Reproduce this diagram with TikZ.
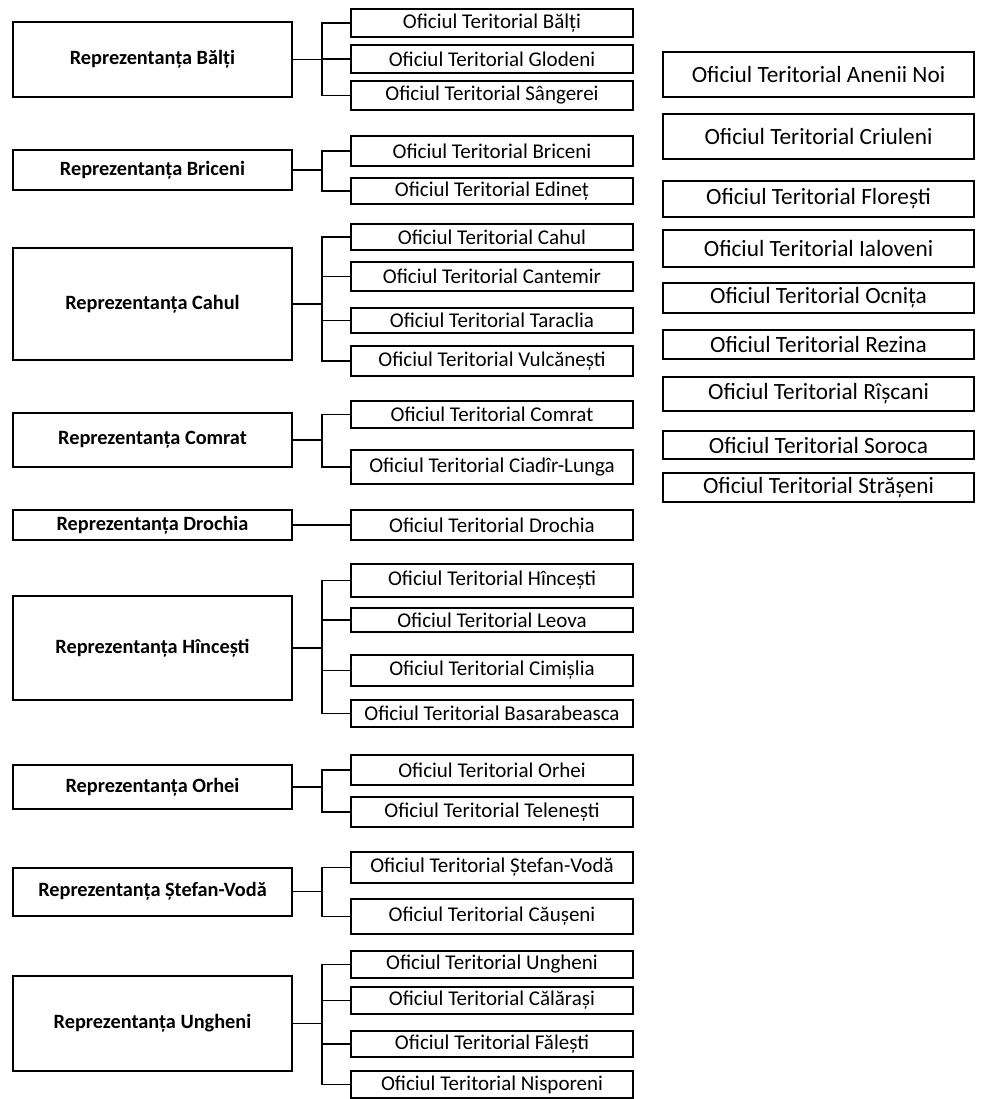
\documentclass[tikz,border=0pt]{standalone}
\usepackage{fontspec}
\setmainfont{Carlito}
\tikzset{
  repbox/.style={draw, line width=2pt, minimum width=279pt, inner sep=0pt,
    font=\fontsize{20.3}{24}\selectfont\bfseries},
  ofbox/.style={draw, line width=1.2pt, minimum width=282pt, inner sep=0pt,
    font=\fontsize{21}{24}\selectfont},
  solobox/.style={draw, line width=1.4pt, minimum width=311pt, inner sep=0pt,
    font=\fontsize{23.3}{27}\selectfont},
  link/.style={line width=1.1pt}
}
\begin{document}
\begin{tikzpicture}[x=1pt,y=-1pt]
			\useasboundingbox (0,0) rectangle (983,1099);
			
			% reprezentante
			\node[repbox, minimum height=75pt] (rBalti) at (152.5,59.5) {Reprezentanța Bălți};
			\node[repbox, minimum height=40pt] (rBriceni) at (152.5,170) {Reprezentanța Briceni};
			\node[repbox, minimum height=112pt] (rCahul) at (152.5,304) {Reprezentanța Cahul};
			\node[repbox, minimum height=54pt] (rComrat) at (152.5,440) {Reprezentanța Comrat};
			\node[repbox, minimum height=30pt] (rDrochia) at (152.5,525) {Reprezentanța Drochia};
			\node[repbox, minimum height=104pt] (rHincesti) at (152.5,648) {Reprezentanța Hîncești};
			\node[repbox, minimum height=44pt] (rOrhei) at (152.5,787) {Reprezentanța Orhei};
			\node[repbox, minimum height=48pt] (rStefan) at (152.5,891.5) {Reprezentanța Ștefan-Vodă};
			\node[repbox, minimum height=95pt] (rUngheni) at (152.5,1023.5) {Reprezentanța Ungheni};
			
			% oficii
			\node[ofbox, minimum height=28pt] (oBalti) at (492,23) {Oficiul Teritorial Bălți};
			\node[ofbox, minimum height=28pt] (oGlodeni) at (492,59) {Oficiul Teritorial Glodeni};
			\node[ofbox, minimum height=29pt] (oSangerei) at (492,95.5) {Oficiul Teritorial Sângerei};
			
			\node[ofbox, minimum height=30pt] (oBriceni) at (492,151) {Oficiul Teritorial Briceni};
			\node[ofbox, minimum height=26pt] (oEdinet) at (492,191) {Oficiul Teritorial Edineț};
			
			\node[ofbox, minimum height=26pt] (oCahul) at (492,237) {Oficiul Teritorial Cahul};
			\node[ofbox, minimum height=29pt] (oCantemir) at (492,276.5) {Oficiul Teritorial Cantemir};
			\node[ofbox, minimum height=25pt] (oTaraclia) at (492,320.5) {Oficiul Teritorial Taraclia};
			\node[ofbox, minimum height=30pt] (oVulcanesti) at (492,361) {Oficiul Teritorial Vulcănești};
			
			\node[ofbox, minimum height=27pt] (oComrat) at (492,414.5) {Oficiul Teritorial Comrat};
			\node[ofbox, minimum height=34pt] (oCiadir) at (492,467) {Oficiul Teritorial Ciadîr-Lunga};
			
			\node[ofbox, minimum height=30pt] (oDrochia) at (492,525) {Oficiul Teritorial Drochia};
			
			\node[ofbox, minimum height=33pt] (oHincesti) at (492,580.5) {Oficiul Teritorial Hîncești};
			\node[ofbox, minimum height=24pt] (oLeova) at (492,620) {Oficiul Teritorial Leova};
			\node[ofbox, minimum height=31pt] (oCimislia) at (492,670.5) {Oficiul Teritorial Cimișlia};
			\node[ofbox, minimum height=27pt] (oBasarabeasca) at (492,713.5) {Oficiul Teritorial Basarabeasca};
			
			\node[ofbox, minimum height=30pt] (oOrhei) at (492,770) {Oficiul Teritorial Orhei};
			\node[ofbox, minimum height=30pt] (oTelenesti) at (492,812) {Oficiul Teritorial Telenești};
			
			\node[ofbox, minimum height=31pt] (oStefan) at (492,867.5) {Oficiul Teritorial Ștefan-Vodă};
			\node[ofbox, minimum height=35pt] (oCauseni) at (492,916.5) {Oficiul Teritorial Căușeni};
			
			\node[ofbox, minimum height=27pt] (oUngheni) at (492,964.5) {Oficiul Teritorial Ungheni};
			\node[ofbox, minimum height=27pt] (oCalarasi) at (492,1000.5) {Oficiul Teritorial Călărași};
			\node[ofbox, minimum height=26pt] (oFalesti) at (492,1044) {Oficiul Teritorial Fălești};
			\node[ofbox, minimum height=27pt] (oNisporeni) at (492,1084.5) {Oficiul Teritorial Nisporeni};
			
			% oficii separate
			\node[solobox, minimum height=45pt] (sAnenii) at (818.5,74.5) {Oficiul Teritorial Anenii Noi};
			\node[solobox, minimum height=45pt] (sCriuleni) at (818.5,136.5) {Oficiul Teritorial Criuleni};
			\node[solobox, minimum height=36pt] (sFloresti) at (818.5,199) {Oficiul Teritorial Florești};
			\node[solobox, minimum height=37pt] (sIaloveni) at (818.5,248.5) {Oficiul Teritorial Ialoveni};
			\node[solobox, minimum height=30pt] (sOcnita) at (818.5,298) {Oficiul Teritorial Ocnița};
			\node[solobox, minimum height=29pt] (sRezina) at (818.5,344.5) {Oficiul Teritorial Rezina};
			\node[solobox, minimum height=34pt] (sRiscani) at (818.5,394) {Oficiul Teritorial Rîșcani};
			\node[solobox, minimum height=28pt] (sSoroca) at (818.5,445) {Oficiul Teritorial Soroca};
			\node[solobox, minimum height=29pt] (sStraseni) at (818.5,487.5) {Oficiul Teritorial Strășeni};
			
			% legaturi
			\draw[link] (rBalti.east) -- ++(29,0) |- (oBalti.west);
			\draw[link] (rBalti.east) -- ++(29,0) |- (oGlodeni.west);
			\draw[link] (rBalti.east) -- ++(29,0) |- (oSangerei.west);
			
			\draw[link] (rBriceni.east) -- ++(29,0) |- (oBriceni.west);
			\draw[link] (rBriceni.east) -- ++(29,0) |- (oEdinet.west);
			
			\draw[link] (rCahul.east) -- ++(29,0) |- (oCahul.west);
			\draw[link] (rCahul.east) -- ++(29,0) |- (oCantemir.west);
			\draw[link] (rCahul.east) -- ++(29,0) |- (oTaraclia.west);
			\draw[link] (rCahul.east) -- ++(29,0) |- (oVulcanesti.west);
			
			\draw[link] (rComrat.east) -- ++(29,0) |- (oComrat.west);
			\draw[link] (rComrat.east) -- ++(29,0) |- (oCiadir.west);
			
			\draw[link] (rDrochia.east) -- (oDrochia.west);
			
			\draw[link] (rHincesti.east) -- ++(29,0) |- (oHincesti.west);
			\draw[link] (rHincesti.east) -- ++(29,0) |- (oLeova.west);
			\draw[link] (rHincesti.east) -- ++(29,0) |- (oCimislia.west);
			\draw[link] (rHincesti.east) -- ++(29,0) |- (oBasarabeasca.west);
			
			\draw[link] (rOrhei.east) -- ++(29,0) |- (oOrhei.west);
			\draw[link] (rOrhei.east) -- ++(29,0) |- (oTelenesti.west);
			
			\draw[link] (rStefan.east) -- ++(29,0) |- (oStefan.west);
			\draw[link] (rStefan.east) -- ++(29,0) |- (oCauseni.west);
			
			\draw[link] (rUngheni.east) -- ++(29,0) |- (oUngheni.west);
			\draw[link] (rUngheni.east) -- ++(29,0) |- (oCalarasi.west);
			\draw[link] (rUngheni.east) -- ++(29,0) |- (oFalesti.west);
			\draw[link] (rUngheni.east) -- ++(29,0) |- (oNisporeni.west);

	\end{tikzpicture}
\end{document}
